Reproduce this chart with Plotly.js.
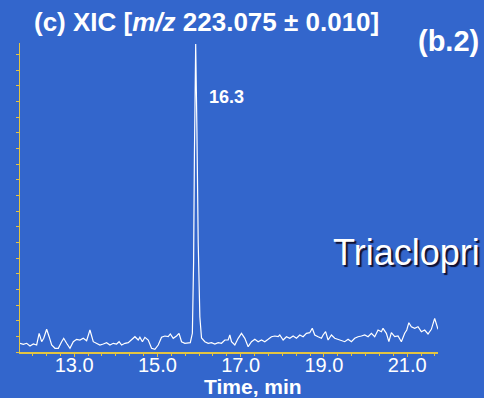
<!DOCTYPE html>
<html>
<head>
<meta charset="utf-8">
<script src="https://cdn.plot.ly/plotly-3.0.1.min.js"></script>
<style>html,body{margin:0;padding:0;background:#3366CC;}#chart{width:484px;height:398px;}</style>
</head>
<body>
<div id="chart"></div>
<script>
// Retention time (min)
const timeMin = [
11.70,11.78,11.86,11.94,12.02,12.10,12.16,12.22,12.27,12.34,12.40,12.46,12.54,12.62,12.70,12.75,12.82,12.90,12.98,
13.06,13.14,13.22,13.30,13.38,13.46,13.54,13.62,13.70,13.78,13.86,13.94,14.02,14.08,14.14,14.22,14.30,14.38,14.46,
14.54,14.58,14.64,14.70,14.78,14.86,14.94,15.02,15.10,15.18,15.26,15.31,15.38,15.46,15.52,15.58,15.66,15.74,15.79,
15.84,15.87,15.89,15.92,15.95,15.98,16.02,16.06,
16.14,16.22,16.30,16.38,16.46,16.54,16.62,16.70,16.74,16.78,16.86,16.94,17.02,17.10,17.18,17.26,17.34,17.42,17.50,
17.58,17.66,17.74,17.82,17.90,17.94,18.02,18.10,18.18,18.26,18.34,18.42,18.50,18.58,18.66,18.72,18.78,18.86,18.94,
18.98,19.04,19.10,19.18,19.26,19.34,19.42,19.50,19.58,19.66,19.74,19.82,19.90,19.98,20.06,20.14,20.22,20.30,20.38,
20.42,20.50,20.56,20.62,20.70,20.78,20.86,20.94,20.99,21.04,21.10,21.18,21.26,21.34,21.42,21.50,21.58,21.66,21.74
];
// Extracted ion intensity (relative units)
const intensity = [
8.7,7.7,8.7,6.0,8.0,7.0,18.7,10.3,13.7,22.7,15.3,7.0,3.7,3.7,10.3,13.7,8.7,3.7,10.3,
12.7,12.0,13.7,11.3,22.0,10.3,8.7,7.0,8.0,9.3,7.0,8.7,8.0,10.3,7.0,8.7,9.3,12.0,15.3,
12.0,14.7,10.3,14.7,12.0,3.7,2.7,7.0,14.7,16.0,15.3,18.0,13.7,16.0,18.7,10.3,8.7,8.7,9.3,
18.7,90,200,308,220,110,35,14,
10.3,8.7,9.3,8.0,9.3,8.7,12.0,12.0,17.0,10.3,7.0,13.7,18.7,13.7,5.3,10.3,12.7,10.3,12.0,
10.3,12.7,15.3,16.0,15.3,17.0,12.0,15.3,13.7,16.0,13.7,17.0,15.3,18.7,19.3,23.7,17.0,15.3,13.7,
17.0,20.3,12.0,17.0,13.7,12.7,12.0,10.3,12.7,10.3,13.7,15.3,16.0,17.0,15.3,18.7,15.3,22.0,20.3,
23.7,18.7,10.3,19.3,15.3,16.0,10.3,18.7,22.0,29.3,25.3,23.7,25.3,20.3,22.0,18.0,22.7,33.7,22.7
];
const tickVals = [13, 15, 17, 19, 21];
const tickText = ["13.0", "15.0", "17.0", "19.0", "21.0"];
const peakLabel = "16.3";

const BG = '#3366CC';
const AX = '#E2C443';
const FONT = 'Liberation Sans, Arial, sans-serif';

const trace = {
  x: timeMin, y: intensity, type: 'scatter', mode: 'lines',
  line: {color: '#FFFFFF', width: 1.2}, hoverinfo: 'skip'
};

const layout = {
  width: 484, height: 398,
  paper_bgcolor: BG, plot_bgcolor: BG,
  margin: {l: 20, r: 46, t: 43, b: 46},
  showlegend: false,
  font: {family: FONT, color: '#FFFFFF'},
  xaxis: {
    range: [11.70, 21.74], showgrid: false, zeroline: false,
    showline: true, linecolor: AX, linewidth: 1.5,
    tickmode: 'array', tickvals: tickVals, ticktext: tickText,
    ticks: 'outside', ticklen: 3, tickcolor: AX, tickwidth: 1,
    ticklabelstandoff: -9,
    tickfont: {size: 20, color: '#FFFFFF', family: FONT},
    minor: {dtick: 1/3, tick0: 13, ticks: 'outside', ticklen: 2, tickcolor: AX, showgrid: false}
  },
  yaxis: {
    range: [0, 309], showgrid: false, zeroline: false,
    showline: true, linecolor: AX, linewidth: 1.5,
    tickmode: 'linear', tick0: 0, dtick: 15.65,
    ticks: 'outside', ticklen: 3, tickcolor: AX, tickwidth: 1,
    showticklabels: false
  },
  annotations: [
    {xref: 'paper', yref: 'paper', x: 0.029, y: 1.068, xanchor: 'left', yanchor: 'middle', showarrow: false,
     text: '<b>(c) XIC [<i>m/z</i> 223.075 ± 0.010]</b>', font: {size: 26, color: '#FFFFFF', family: FONT}},
    {xref: 'paper', yref: 'paper', x: 0.948, y: 1.005, xanchor: 'left', yanchor: 'middle', showarrow: false,
     text: '<b>(b.2)</b>', font: {size: 29, color: '#FFFFFF', family: FONT}},
    {xref: 'paper', yref: 'paper', x: 0.447, y: 0.825, xanchor: 'left', yanchor: 'middle', showarrow: false,
     text: '<b>' + peakLabel + '</b>', font: {size: 18, color: '#FFFFFF', family: FONT}},
    {xref: 'paper', yref: 'paper', x: 0.745, y: 0.322, xanchor: 'left', yanchor: 'middle', showarrow: false,
     text: 'Triaclopri', font: {size: 36, color: '#FFFFFF', family: FONT, shadow: '2px 2px 1px #101030'}},
    {xref: 'paper', yref: 'paper', x: 0.5586, y: -0.113, xanchor: 'center', yanchor: 'middle', showarrow: false,
     text: '<b>Time, min</b>', font: {size: 21, color: '#FFFFFF', family: FONT}}
  ]
};

Plotly.newPlot('chart', [trace], layout, {displayModeBar: false, staticPlot: true});
</script>
</body>
</html>
